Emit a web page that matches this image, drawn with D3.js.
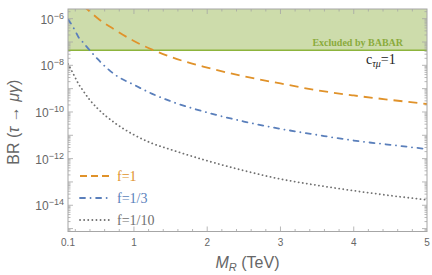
<!DOCTYPE html>
<html>
<head>
<meta charset="utf-8">
<script src="https://cdn.jsdelivr.net/npm/d3@7"></script>
<style>
    body { margin: 0; background: #fff; }
    svg { display: block; }
</style>
</head>
<body>
<div id="chart"></div>
<script>
// M_R in TeV
var massTeV = [0.1, 0.15, 0.2, 0.25, 0.3, 0.4, 0.5, 0.75, 1, 1.25, 1.5, 2, 2.5, 3, 3.5, 4, 4.5, 5];
// BR(tau -> mu gamma) (null = off the top of the plot)
var brF1 = [null, null, null, null, 3.7e-6, 2.0e-6, 1.07e-6, 3.2e-7, 1.1e-7, 4.7e-8, 2.3e-8, 8.0e-9, 3.4e-9, 1.67e-9, 8.5e-10, 5.1e-10, 3.3e-10, 2.2e-10];
var brF3 = [9.1e-7, 5.5e-7, 2.95e-7, 1.5e-7, 1.0e-7, 4.3e-8, 1.92e-8, 3.8e-9, 1.46e-9, 6.0e-10, 2.9e-10, 9.5e-11, 3.9e-11, 1.89e-11, 1.04e-11, 5.96e-12, 3.9e-12, 2.57e-12];
var brF10 = [1.15e-8, 5.9e-9, 2.9e-9, 1.48e-9, 8.7e-10, 3.2e-10, 1.45e-10, 3.2e-11, 1.05e-11, 4.5e-12, 2.46e-12, 8.1e-13, 3.07e-13, 1.33e-13, 7.2e-14, 4.2e-14, 2.6e-14, 1.7e-14];
var seriesNames = ["f=1", "f=1/3", "f=1/10"];
var babarLimit = 4.4e-8;
var xTickValues = [0.1, 1, 2, 3, 4, 5];
var yLabelExps = [-6, -8, -10, -12, -14];

var W = 432, H = 275;
var margin = { top: 9, right: 5, bottom: 43.5, left: 68 };
var width = W - margin.left - margin.right;
var height = H - margin.top - margin.bottom;

var colors = ["#e0922a", "#5a7fbb", "#707070"];
var dashes = ["9,6", "5,5.5,0.1,5.5", "0.1,4"];
var caps = ["butt", "round", "round"];
var frameColor = "#a6a6a6", labelColor = "#666";

var x = d3.scaleLinear().domain([0.1, 5]).range([0, width]);
var y = d3.scaleLog().domain([7.5e-16, 2.6e-6]).range([height, 0]);

var svg = d3.select("#chart").append("svg")
    .attr("width", W).attr("height", H);

svg.append("defs").append("clipPath").attr("id", "plotclip")
    .append("rect").attr("width", width).attr("height", height);

var g = svg.append("g")
    .attr("transform", "translate(" + margin.left + "," + margin.top + ")");

// excluded region
g.append("rect")
    .attr("x", 0).attr("y", 0)
    .attr("width", width).attr("height", y(babarLimit))
    .attr("fill", "#cddcab");
g.append("line")
    .attr("x1", 0).attr("x2", width)
    .attr("y1", y(babarLimit)).attr("y2", y(babarLimit))
    .attr("stroke", "#8db43c").attr("stroke-width", 1.6);
g.append("text")
    .attr("x", 335).attr("y", y(babarLimit) - 4)
    .attr("text-anchor", "end")
    .attr("fill", "#8aab3c")
    .style("font", "bold 10px 'Liberation Serif', serif")
    .text("Excluded by BABAR");

// frame ticks (all four sides, pointing inward)
var xMinor = d3.range(0.2, 5, 0.2).filter(function (d) { return Math.abs(d - Math.round(d)) > 0.01; });
var yMajor = d3.range(-15, -5).map(function (e) { return Math.pow(10, e); });
var yMinor = [];
d3.range(-16, -5).forEach(function (e) {
    for (var k = 2; k <= 9; k++) {
        var v = k * Math.pow(10, e);
        if (v >= y.domain()[0] && v <= y.domain()[1]) yMinor.push(v);
    }
});

var ticks = g.append("g").attr("stroke", frameColor).attr("stroke-width", 0.8);
function xTick(v, len) {
    ticks.append("line").attr("x1", x(v)).attr("x2", x(v)).attr("y1", height).attr("y2", height - len);
    ticks.append("line").attr("x1", x(v)).attr("x2", x(v)).attr("y1", 0).attr("y2", len);
}
function yTick(v, len) {
    ticks.append("line").attr("y1", y(v)).attr("y2", y(v)).attr("x1", 0).attr("x2", len);
    ticks.append("line").attr("y1", y(v)).attr("y2", y(v)).attr("x1", width).attr("x2", width - len);
}
[1, 2, 3, 4].forEach(function (v) { xTick(v, 5); });
xMinor.forEach(function (v) { xTick(v, 2.5); });
yMajor.forEach(function (v) { yTick(v, 5); });
yMinor.forEach(function (v) { yTick(v, 2.5); });

// curves
var brSeries = [brF1, brF3, brF10];
var line = d3.line()
    .defined(function (d) { return d[1] != null; })
    .x(function (d) { return x(d[0]); })
    .y(function (d) { return y(d[1]); })
    .curve(d3.curveMonotoneX);

var curves = g.append("g").attr("clip-path", "url(#plotclip)");
brSeries.forEach(function (vals, i) {
    var pts = massTeV.map(function (m, j) { return [m, vals[j]]; });
    curves.append("path")
        .datum(pts)
        .attr("d", line)
        .attr("fill", "none")
        .attr("stroke", colors[i])
        .attr("stroke-width", 1.8)
        .attr("stroke-linecap", caps[i])
        .attr("stroke-dasharray", dashes[i]);
});

// frame
g.append("rect")
    .attr("width", width).attr("height", height)
    .attr("fill", "none").attr("stroke", frameColor).attr("stroke-width", 1);

// x tick labels
g.append("g").selectAll("text")
    .data(xTickValues).enter().append("text")
    .attr("x", function (d) { return x(d); })
    .attr("y", height + 14)
    .attr("text-anchor", "middle")
    .attr("fill", labelColor)
    .style("font", "10px 'Liberation Sans', Arial, sans-serif")
    .text(function (d) { return d; });

// y tick labels 10^n
var yl = g.append("g").selectAll("text")
    .data(yLabelExps).enter().append("text")
    .attr("x", -4)
    .attr("y", function (d) { return y(Math.pow(10, d)) + 5; })
    .attr("text-anchor", "end")
    .attr("fill", labelColor)
    .style("font", "12px 'Liberation Sans', Arial, sans-serif");
yl.append("tspan").text("10");
yl.append("tspan").attr("dy", -5).style("font-size", "9px").text(function (d) { return "\u2212" + (-d); });

// annotation c_{tau mu}=1
var ann = g.append("text")
    .attr("x", 298).attr("y", 55)
    .attr("fill", "#222")
    .style("font", "14px 'Liberation Serif', serif");
ann.append("tspan").text("c");
ann.append("tspan").attr("dy", 3).style("font-size", "10px").style("font-style", "italic").text("\u03c4\u03bc");
ann.append("tspan").attr("dy", -3).text("=1");

// legend
var leg = g.append("g").attr("transform", "translate(12,167)");
seriesNames.forEach(function (name, i) {
    var row = leg.append("g").attr("transform", "translate(0," + (i * 22) + ")");
    row.append("line")
        .attr("x1", 0).attr("x2", 30)
        .attr("stroke", colors[i]).attr("stroke-width", 1.8)
        .attr("stroke-linecap", caps[i])
        .attr("stroke-dasharray", i === 0 ? "7,4" : dashes[i]);
    row.append("text")
        .attr("x", 37).attr("y", 5)
        .attr("fill", colors[i])
        .style("font", "14px 'Liberation Serif', serif")
        .text(name);
});

// axis titles
var xt = svg.append("text")
    .attr("x", margin.left + width / 2).attr("y", 268)
    .attr("text-anchor", "middle")
    .attr("fill", labelColor)
    .style("font", "16px 'Liberation Sans', Arial, sans-serif");
xt.append("tspan").style("font-style", "italic").text("M");
xt.append("tspan").attr("dy", 3).style("font-size", "11px").style("font-style", "italic").text("R");
xt.append("tspan").attr("dy", -3).text(" (TeV)");

var yt = svg.append("text")
    .attr("transform", "translate(19," + (margin.top + height / 2 + 2) + ") rotate(-90)")
    .attr("text-anchor", "middle")
    .attr("fill", labelColor)
    .style("font", "16px 'Liberation Sans', Arial, sans-serif");
yt.append("tspan").text("BR (");
yt.append("tspan").style("font-style", "italic").text("\u03c4");
yt.append("tspan").text(" \u2192 ");
yt.append("tspan").style("font-style", "italic").text("\u03bc\u03b3");
yt.append("tspan").text(")");
</script>
</body>
</html>
